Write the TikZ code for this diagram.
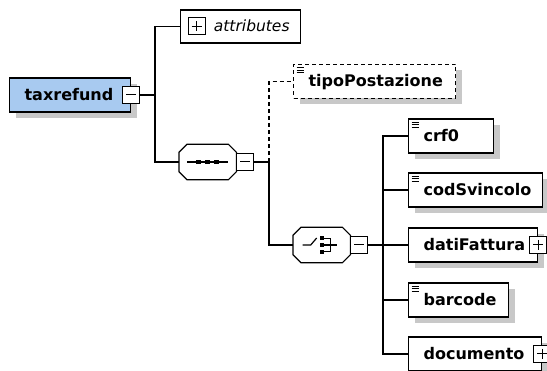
\documentclass[tikz,border=0pt]{standalone}
\usepackage{fontspec}
\setmainfont{DejaVu Sans}
\usetikzlibrary{shadows}

\definecolor{taxblue}{RGB}{168,202,240}
\definecolor{shadowgray}{RGB}{200,200,200}

\tikzset{
  conn/.style={line width=1.2pt},
  boxshadow/.style={drop shadow={shadow xshift=6pt, shadow yshift=-6pt, fill=shadowgray, opacity=1}},
  elem/.style={draw, line width=1.2pt, fill=white, anchor=west, inner xsep=15pt, inner ysep=0pt,
    text width=#1pt, align=left, minimum height=34pt, text height=13pt, text depth=2pt,
    font=\bfseries\fontsize{16}{18}\selectfont, boxshadow},
  leaf/.style={path picture={
    \foreach \k in {3,5.5,8}
      \draw[solid, line width=0.7pt] ([shift={(3pt,-\k pt)}]path picture bounding box.north west) -- ++(7pt,0pt);}},
  attrbox/.style={draw, line width=1.2pt, fill=white, anchor=west, inner xsep=11pt, inner ysep=0pt,
    text width=98pt, align=right, minimum height=33pt, text height=13pt, text depth=2pt,
    font=\itshape\fontsize{15.5}{18}\selectfont},
  comp/.style={minimum width=57pt, minimum height=35pt, inner sep=0pt, anchor=west},
  pmbox/.style={draw, fill=white, line width=1pt, minimum size=17pt, inner sep=0pt},
  minusbox/.style={pmbox, path picture={
    \draw[line width=1pt] ([xshift=3.5pt]path picture bounding box.west) -- ([xshift=-3.5pt]path picture bounding box.east);}},
  plusbox/.style={pmbox, path picture={
    \draw[line width=1pt] ([xshift=3.5pt]path picture bounding box.west) -- ([xshift=-3.5pt]path picture bounding box.east)
      ([yshift=-3.5pt]path picture bounding box.north) -- ([yshift=3.5pt]path picture bounding box.south);}}
}

% octagon of a compositor node, with its shadow
\newcommand{\octa}[1]{%
  \fill[shadowgray, shift={(6.5pt,-6.5pt)}] ([xshift=8pt]#1.north west) -- ([xshift=-8pt]#1.north east)
    -- ([yshift=-8pt]#1.north east) -- ([yshift=8pt]#1.south east) -- ([xshift=-8pt]#1.south east)
    -- ([xshift=8pt]#1.south west) -- ([yshift=8pt]#1.south west) -- ([yshift=-8pt]#1.north west) -- cycle;
  \draw[line width=1.2pt, fill=white] ([xshift=8pt]#1.north west) -- ([xshift=-8pt]#1.north east)
    -- ([yshift=-8pt]#1.north east) -- ([yshift=8pt]#1.south east) -- ([xshift=-8pt]#1.south east)
    -- ([xshift=8pt]#1.south west) -- ([yshift=8pt]#1.south west) -- ([yshift=-8pt]#1.north west) -- cycle;}

\begin{document}
\begin{tikzpicture}[x=1pt, y=-1pt]
  \useasboundingbox (0,0) rectangle (547,371);

  % root element
  \node[elem=91, fill=taxblue] (tax) at (9,95) {taxrefund};
  \node[minusbox] (taxpm) at (tax.east) {};

  \node[attrbox] (attr) at (180,26.5) {attributes};
  \node[plusbox] (attrpm) at (196.5,26.5) {};

  % sequence
  \node[comp] (seq) at (179,162) {};
  \octa{seq}
  \node[minusbox, anchor=west] (seqpm) at (seq.east) {};
  \draw[line width=1.2pt] ([xshift=-20.5pt]seq.center) -- ([xshift=20.5pt]seq.center);
  \foreach \dx in {-9,0,9}
    \fill ([xshift=\dx pt]seq.center) +(-2.3pt,-2.3pt) rectangle +(2.3pt,2.3pt);

  \node[elem=132, leaf, dash pattern=on 4pt off 3pt] (tipo) at (293,81.5) {tipoPostazione};

  % choice
  \node[comp] (choice) at (293,245) {};
  \octa{choice}
  \node[minusbox, anchor=west] (choicepm) at (choice.east) {};
  \draw[line width=1.2pt] ([xshift=-19pt]choice.center) -- ([xshift=-11pt]choice.center) -- ([shift={(-5pt,7pt)}]choice.center);
  \foreach \dy in {-7,0,7}
    \fill ([shift={(-0.2pt,\dy pt)}]choice.center) +(-2pt,-2pt) rectangle +(2pt,2pt);
  \draw[line width=1.1pt] ([shift={(2pt,6.5pt)}]choice.center) -- ([shift={(8.5pt,6.5pt)}]choice.center)
    -- ([shift={(8.5pt,-6.5pt)}]choice.center) -- ([shift={(2pt,-6.5pt)}]choice.center);
  \draw[line width=1.1pt] ([xshift=2pt]choice.center) -- ([xshift=15pt]choice.center);

  \node[elem=55, leaf] (crf) at (408,136) {crf0};
  \node[elem=104, leaf] (cod) at (408,190) {codSvincolo};
  \node[elem=99] (dati) at (408,245) {datiFattura};
  \node[plusbox] (datipm) at (dati.east) {};
  \node[elem=70, leaf] (bar) at (408,300) {barcode};
  \node[elem=103] (doc) at (408,354) {documento};
  \node[plusbox] (docpm) at (doc.east) {};

  \coordinate (j1) at (155,95);
  \coordinate (j2) at (269,162);
  \coordinate (j3) at (383,245);

  \draw[conn] (taxpm.east) -- (j1);
  \draw[conn] (attr.west) -| (j1) |- (seq.west);
  \draw[conn] (seqpm.east) -- (j2) |- (choice.west);
  \draw[conn, dash pattern=on 4pt off 3pt] (j2) |- (tipo.west);
  \draw[conn] (choicepm.east) -- (j3);
  \foreach \n in {crf,cod,dati,bar,doc}
    \draw[conn] (j3) |- (\n.west);
\end{tikzpicture}
\end{document}
